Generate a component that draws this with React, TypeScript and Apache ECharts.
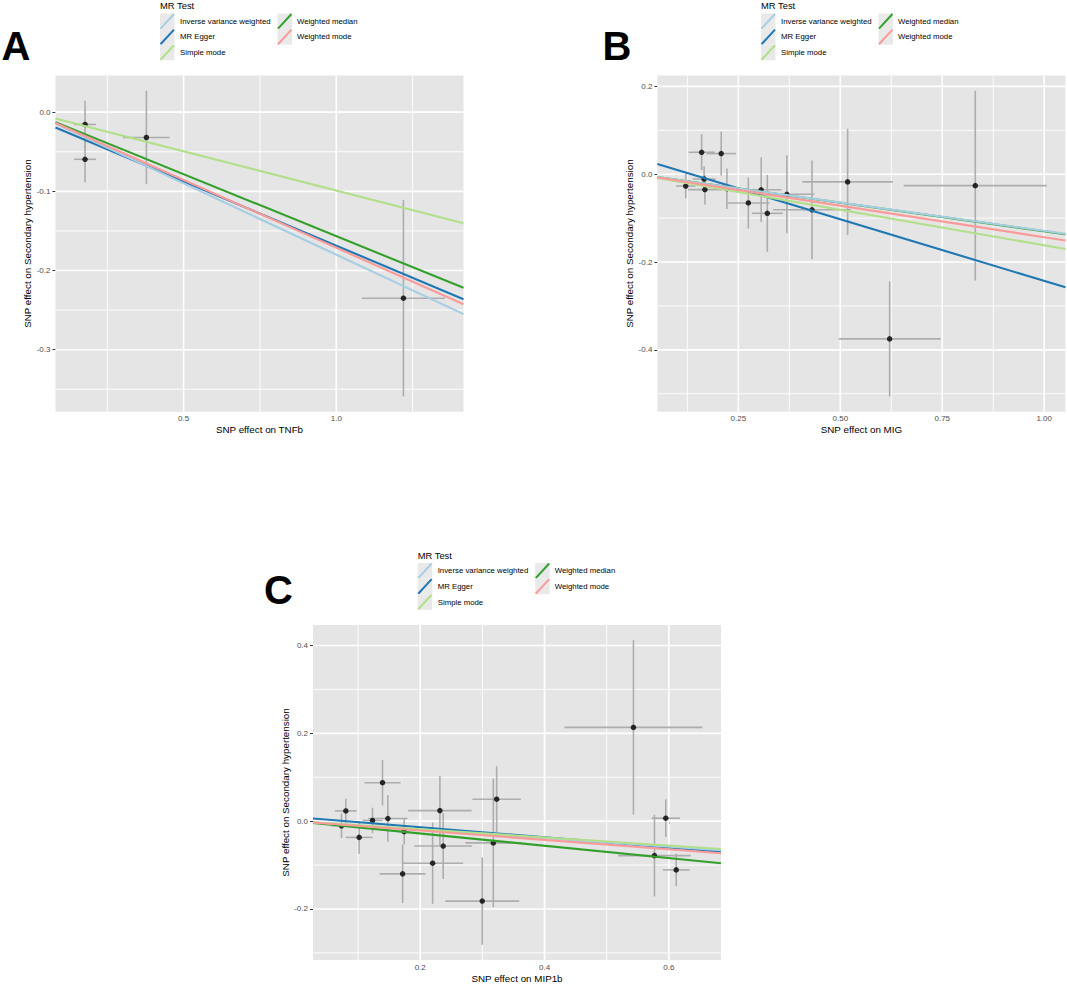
import React, { useEffect, useRef } from "react";
import * as echarts from "echarts";

const FONT = "'Liberation Sans', Arial, Helvetica, sans-serif";

// ---------- methods ----------
const methods = ["Inverse variance weighted", "MR Egger", "Simple mode", "Weighted median", "Weighted mode"];
const methodColors = ["#a6cee3", "#1f78b4", "#b2df8a", "#33a02c", "#fb9a99"];
const drawOrder = [1, 3, 0, 2, 4]; // MR Egger, Weighted median, IVW, Simple mode, Weighted mode

// ---------- Panel A: TNFb ----------
const tnfbExposureBeta = [0.177, 0.177, 0.378, 1.22];
const tnfbExposureSe = [0.036, 0.036, 0.076, 0.136];
const tnfbOutcomeBeta = [-0.0155, -0.0595, -0.032, -0.235];
const tnfbOutcomeSe = [0.03, 0.029, 0.059, 0.124];
const tnfbSlopes = [-0.18, -0.1623, -0.099, -0.1566, -0.1712];
const tnfbIntercepts = [0, -0.0063, 0, 0, 0];
const tnfbXTicks = [0.5, 1.0];
const tnfbXMinor = [0.25, 0.75, 1.25];
const tnfbYTicks = [-0.3, -0.2, -0.1, 0.0];
const tnfbYMinor = [-0.35, -0.25, -0.15, -0.05];

// ---------- Panel B: MIG ----------
const migExposureBeta = [0.121, 0.16, 0.166, 0.168, 0.208, 0.222, 0.2745, 0.306, 0.321, 0.369, 0.4306, 0.518, 0.621, 0.831];
const migExposureSe = [0.024, 0.032, 0.028, 0.042, 0.036, 0.018, 0.052, 0.05, 0.038, 0.0675, 0.095, 0.111, 0.125, 0.1755];
const migOutcomeBeta = [-0.027, 0.05, -0.011, -0.035, 0.047, -0.033, -0.0655, -0.0355, -0.089, -0.0457, -0.081, -0.0175, -0.375, -0.026];
const migOutcomeSe = [0.028, 0.041, 0.029, 0.034, 0.05, 0.046, 0.058, 0.0735, 0.0875, 0.089, 0.1125, 0.121, 0.131, 0.216];
const migSlopes = [-0.129, -0.281, -0.162, -0.13, -0.1435];
const migIntercepts = [0, 0.038, 0, 0, 0];
const migXTicks = [0.25, 0.5, 0.75, 1.0];
const migXMinor = [0.125, 0.375, 0.625, 0.875];
const migYTicks = [-0.4, -0.2, 0.0, 0.2];
const migYMinor = [-0.5, -0.3, -0.1, 0.1];

// ---------- Panel C: MIP1b ----------
const mip1bExposureBeta = [0.0734, 0.0804, 0.1018, 0.1233, 0.1394, 0.148, 0.1742, 0.1717, 0.22, 0.2317, 0.237, 0.2998, 0.3176, 0.323, 0.543, 0.5768, 0.595, 0.6118];
const mip1bExposureSe = [0.016, 0.0175, 0.0215, 0.016, 0.029, 0.0315, 0.008, 0.037, 0.049, 0.051, 0.0465, 0.0595, 0.045, 0.039, 0.111, 0.0585, 0.0227, 0.0215];
const mip1bOutcomeBeta = [-0.0106, 0.0233, -0.037, 0.0015, 0.0875, 0.006, -0.024, -0.12, -0.0957, 0.024, -0.0566, -0.182, -0.0495, 0.05, 0.2135, -0.0785, 0.0068, -0.111];
const mip1bOutcomeSe = [0.028, 0.028, 0.037, 0.029, 0.052, 0.053, 0.029, 0.0665, 0.0925, 0.0795, 0.075, 0.0995, 0.1465, 0.075, 0.1985, 0.093, 0.0428, 0.037];
const mip1bSlopes = [-0.0965, -0.1148, -0.0925, -0.14, -0.1067];
const mip1bIntercepts = [0, 0.0091, 0, 0, 0];
const mip1bXTicks = [0.2, 0.4, 0.6];
const mip1bXMinor = [0.1, 0.3, 0.5];
const mip1bYTicks = [-0.2, 0.0, 0.2, 0.4];
const mip1bYMinor = [-0.3, -0.1, 0.1, 0.3];

const yTitle = "SNP effect on Secondary hypertension";

const panels = [
  {
    letter: "A", xName: "SNP effect on TNFb",
    bx: tnfbExposureBeta, sx: tnfbExposureSe, by: tnfbOutcomeBeta, sy: tnfbOutcomeSe,
    slopes: tnfbSlopes, intercepts: tnfbIntercepts,
    xTicks: tnfbXTicks, xMinor: tnfbXMinor, yTicks: tnfbYTicks, yMinor: tnfbYMinor,
    xDigits: 1, yDigits: 1,
    grid: { left: 55.5, top: 75.5, width: 408, height: 336.2 },
    letterPos: [1.5, 46], legendPos: [160, 5.5],
  },
  {
    letter: "B", xName: "SNP effect on MIG",
    bx: migExposureBeta, sx: migExposureSe, by: migOutcomeBeta, sy: migOutcomeSe,
    slopes: migSlopes, intercepts: migIntercepts,
    xTicks: migXTicks, xMinor: migXMinor, yTicks: migYTicks, yMinor: migYMinor,
    xDigits: 2, yDigits: 1,
    grid: { left: 657.4, top: 75.5, width: 408, height: 336.2 },
    letterPos: [602.6, 46], legendPos: [761, 5.5],
  },
  {
    letter: "C", xName: "SNP effect on MIP1b",
    bx: mip1bExposureBeta, sx: mip1bExposureSe, by: mip1bOutcomeBeta, sy: mip1bOutcomeSe,
    slopes: mip1bSlopes, intercepts: mip1bIntercepts,
    xTicks: mip1bXTicks, xMinor: mip1bXMinor, yTicks: mip1bYTicks, yMinor: mip1bYMinor,
    xDigits: 1, yDigits: 1,
    grid: { left: 313, top: 625, width: 408, height: 336.5 },
    letterPos: [264, 589.5], legendPos: [417.7, 555],
  },
];

function expand(lo: number, hi: number): [number, number] {
  const d = hi - lo;
  return [lo - 0.05 * d, hi + 0.05 * d];
}

function legendElements(x0: number, ty: number) {
  const els: any[] = [];
  els.push({
    type: "text", x: x0, y: ty,
    style: { text: "MR Test", fontSize: 9.4, fontFamily: FONT, fill: "#000", align: "left", verticalAlign: "middle", textAlign: "left", textVerticalAlign: "middle" },
  });
  const keyW = 14.5, keyH = 15.6;
  methods.forEach((m, i) => {
    const col = i < 3 ? 0 : 1;
    const row = i < 3 ? i : i - 3;
    const kx = x0 + (col === 0 ? 0 : 117.5);
    const ky = ty + 8 + row * keyH;
    els.push({ type: "rect", shape: { x: kx, y: ky, width: keyW, height: keyH }, style: { fill: "#e9e9e9" } });
    els.push({
      type: "line",
      shape: { x1: kx + 0.5, y1: ky + keyH - 0.5, x2: kx + keyW - 0.5, y2: ky + 0.5 },
      style: { stroke: methodColors[i], lineWidth: 2 },
    });
    els.push({
      type: "text", x: kx + (col === 0 ? 20 : 19.5), y: ky + keyH / 2,
      style: { text: m, fontSize: 7.8, fontFamily: FONT, fill: "#000", align: "left", verticalAlign: "middle", textAlign: "left", textVerticalAlign: "middle" },
    });
  });
  return els;
}

function buildOption() {
  const grids: any[] = [];
  const xAxes: any[] = [];
  const yAxes: any[] = [];
  const series: any[] = [];
  const graphics: any[] = [];

  panels.forEach((p, pi) => {
    grids.push({
      left: p.grid.left, top: p.grid.top, width: p.grid.width, height: p.grid.height,
      show: true, backgroundColor: "#e5e5e5", borderWidth: 0, containLabel: false,
    });
    const xlo = Math.min(...p.bx.map((v, i) => v - p.sx[i]));
    const xhi = Math.max(...p.bx.map((v, i) => v + p.sx[i]));
    const ylo = Math.min(...p.by.map((v, i) => v - p.sy[i]));
    const yhi = Math.max(...p.by.map((v, i) => v + p.sy[i]));
    const [xmin, xmax] = expand(xlo, xhi);
    const [ymin, ymax] = expand(ylo, yhi);
    const xd = p.xDigits, yd = p.yDigits;

    xAxes.push({
      type: "value", gridIndex: pi, min: xmin, max: xmax,
      axisLine: { show: false }, splitLine: { show: false },
      axisTick: { show: true, customValues: p.xTicks, length: 3, lineStyle: { color: "#333", width: 1 } },
      axisLabel: { customValues: p.xTicks, formatter: (v: number) => v.toFixed(xd), fontSize: 8, color: "#4d4d4d", margin: 3, fontFamily: FONT },
      name: p.xName, nameLocation: "middle", nameGap: 13,
      nameTextStyle: { fontSize: 9.8, color: "#000", fontFamily: FONT },
    });
    yAxes.push({
      type: "value", gridIndex: pi, min: ymin, max: ymax,
      axisLine: { show: false }, splitLine: { show: false },
      axisTick: { show: true, customValues: p.yTicks, length: 3, lineStyle: { color: "#333", width: 1 } },
      axisLabel: { customValues: p.yTicks, formatter: (v: number) => v.toFixed(yd), fontSize: 8, color: "#4d4d4d", margin: 5, fontFamily: FONT },
      name: yTitle, nameLocation: "middle", nameGap: 23,
      nameTextStyle: { fontSize: 9.8, color: "#000", fontFamily: FONT },
    });

    const ymid = (ymin + ymax) / 2;
    const xmid = (xmin + xmax) / 2;
    // vertical gridlines
    series.push({
      type: "custom", xAxisIndex: pi, yAxisIndex: pi, silent: true, z: 1,
      data: [...p.xMinor.map((v) => [v, ymid, 0]), ...p.xTicks.map((v) => [v, ymid, 1])],
      encode: { x: 0, y: 1 },
      renderItem: (params: any, api: any) => {
        const cs = params.coordSys;
        const pt = api.coord([api.value(0), api.value(1)]);
        return {
          type: "line",
          shape: { x1: pt[0], y1: cs.y, x2: pt[0], y2: cs.y + cs.height },
          style: { stroke: "#ffffff", lineWidth: api.value(2) ? 1.6 : 0.9 },
        };
      },
    });
    // horizontal gridlines
    series.push({
      type: "custom", xAxisIndex: pi, yAxisIndex: pi, silent: true, z: 1,
      data: [...p.yMinor.map((v) => [xmid, v, 0]), ...p.yTicks.map((v) => [xmid, v, 1])],
      encode: { x: 0, y: 1 },
      renderItem: (params: any, api: any) => {
        const cs = params.coordSys;
        const pt = api.coord([api.value(0), api.value(1)]);
        return {
          type: "line",
          shape: { x1: cs.x, y1: pt[1], x2: cs.x + cs.width, y2: pt[1] },
          style: { stroke: "#ffffff", lineWidth: api.value(2) ? 1.6 : 0.9 },
        };
      },
    });
    // error bars
    series.push({
      type: "custom", xAxisIndex: pi, yAxisIndex: pi, silent: true, z: 2,
      data: p.bx.map((v, i) => [v, p.by[i], p.sx[i], p.sy[i]]),
      encode: { x: 0, y: 1 },
      renderItem: (params: any, api: any) => {
        const x = api.value(0), y = api.value(1), sx = api.value(2), sy = api.value(3);
        const v1 = api.coord([x, y - sy]);
        const v2 = api.coord([x, y + sy]);
        const h1 = api.coord([x - sx, y]);
        const h2 = api.coord([x + sx, y]);
        return {
          type: "group",
          children: [
            { type: "line", shape: { x1: v1[0], y1: v1[1], x2: v2[0], y2: v2[1] }, style: { stroke: "#adadad", lineWidth: 1.6 } },
            { type: "line", shape: { x1: h1[0], y1: h1[1], x2: h2[0], y2: h2[1] }, style: { stroke: "#adadad", lineWidth: 1.6 } },
          ],
        };
      },
    });
    // points
    series.push({
      type: "scatter", xAxisIndex: pi, yAxisIndex: pi, silent: true, z: 3,
      symbolSize: 5.5, itemStyle: { color: "#000" },
      data: p.bx.map((v, i) => [v, p.by[i]]),
    });
    // regression lines
    drawOrder.forEach((mi) => {
      const a = p.intercepts[mi], b = p.slopes[mi];
      series.push({
        type: "line", xAxisIndex: pi, yAxisIndex: pi, silent: true, z: 4,
        name: methods[mi], symbol: "none", clip: true,
        lineStyle: { color: methodColors[mi], width: 2.1 },
        data: [[xmin, a + b * xmin], [xmax, a + b * xmax]],
      });
    });

    graphics.push({
      type: "text", x: p.letterPos[0], y: p.letterPos[1],
      style: { text: p.letter, fontSize: 40, fontWeight: "bold", fontFamily: FONT, fill: "#000", align: "left", verticalAlign: "middle", textAlign: "left", textVerticalAlign: "middle" },
    });
    graphics.push(...legendElements(p.legendPos[0], p.legendPos[1]));
  });

  return {
    animation: false,
    backgroundColor: "#ffffff",
    textStyle: { fontFamily: FONT },
    grid: grids,
    xAxis: xAxes,
    yAxis: yAxes,
    series,
    graphic: graphics,
  };
}

export default function App() {
  const ref = useRef<HTMLDivElement>(null);
  useEffect(() => {
    if (!ref.current) return;
    const chart = echarts.init(ref.current, null, { renderer: "svg" });
    chart.setOption(buildOption() as any);
    return () => chart.dispose();
  }, []);
  return (
    <div
      ref={ref}
      style={{ position: "absolute", left: 0, top: 0, width: 1067, height: 984, background: "#fff" }}
    />
  );
}
